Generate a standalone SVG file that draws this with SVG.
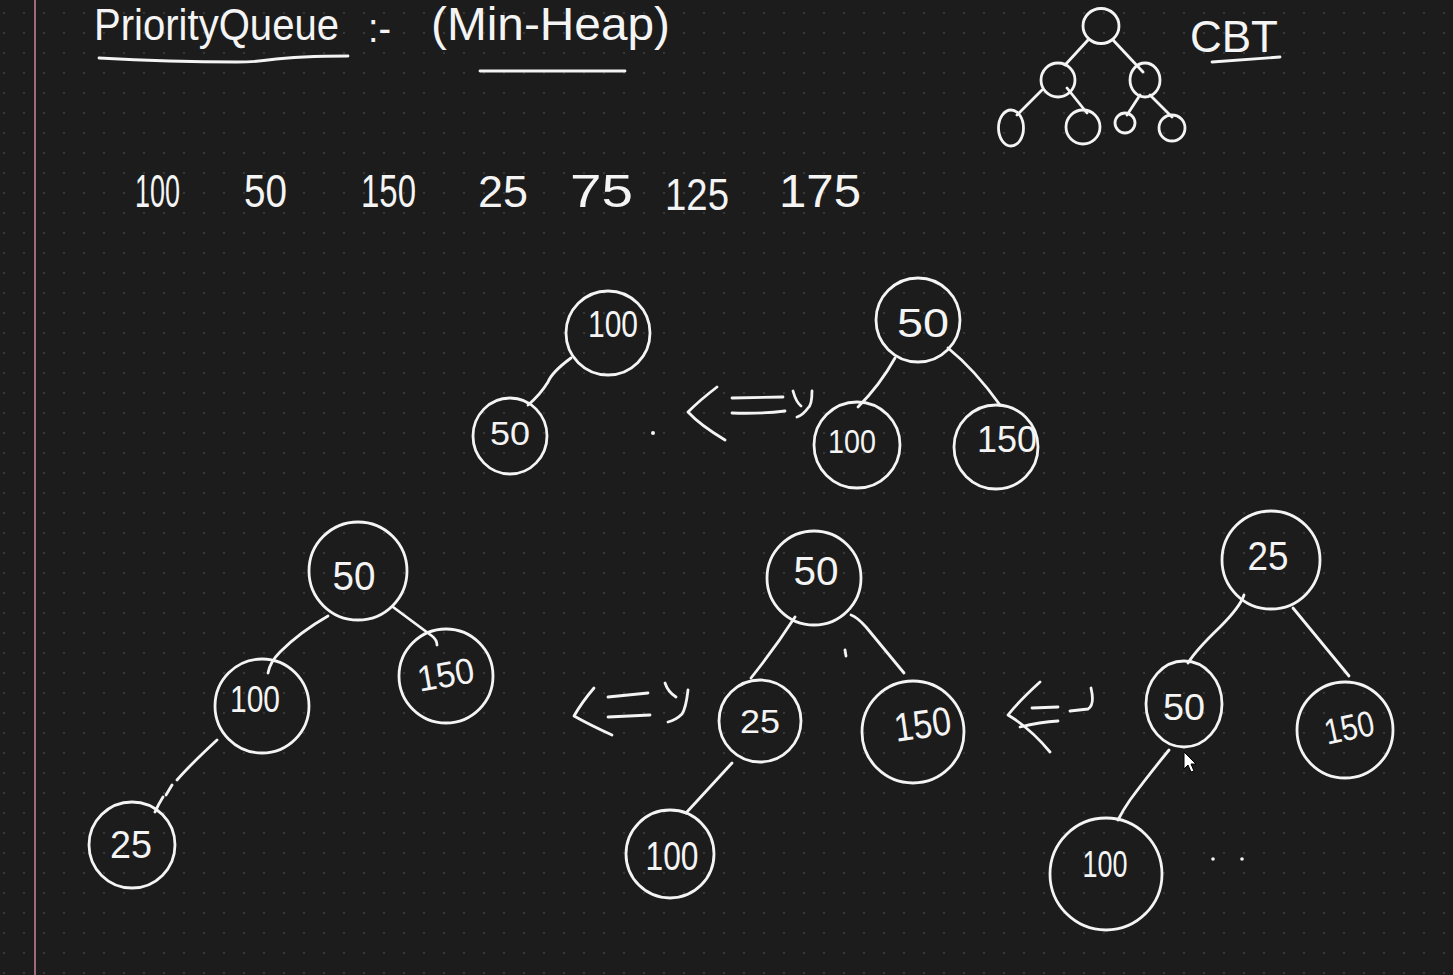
<svg xmlns="http://www.w3.org/2000/svg" width="1453" height="975" viewBox="0 0 1453 975">
<defs>
<pattern id="grid" width="20" height="20" patternUnits="userSpaceOnUse" x="-6" y="3">
<circle cx="10" cy="10" r="1.1" fill="#3e3e3e"/>
</pattern>
<style>
.ink{fill:none;stroke:#f4f4f4;stroke-width:2.8;stroke-linecap:round;stroke-linejoin:round}
.node{fill:none;stroke:#f4f4f4;stroke-width:2.8}
.lbl{fill:#f4f4f4;font-family:"Liberation Sans","DejaVu Sans",sans-serif;text-anchor:middle}
.txt{fill:#f4f4f4;font-family:"Liberation Sans","DejaVu Sans",sans-serif}
</style>
</defs>
<rect width="1453" height="975" fill="#1c1c1c"/>
<rect width="1453" height="975" fill="url(#grid)"/>
<line x1="35" y1="0" x2="35" y2="975" stroke="#9e6b78" stroke-width="2"/>

<g id="title">
<text class="txt" x="94" y="40" font-size="44" textLength="245" lengthAdjust="spacingAndGlyphs">PriorityQueue</text>
<text class="txt" x="368" y="42" font-size="40" textLength="23" lengthAdjust="spacingAndGlyphs">:-</text>
<text class="txt" x="431" y="40" font-size="46" textLength="239" lengthAdjust="spacingAndGlyphs">(Min-Heap)</text>
<path class="ink" d="M99,58 Q170,62 237,62 Q255,62 268,60 Q300,56 348,56"/>
<path class="ink" d="M480,71 L625,71"/>
</g>

<g id="cbt">
<ellipse class="node" cx="1101" cy="26" rx="18" ry="17.5"/>
<circle class="node" cx="1058" cy="80" r="17"/>
<ellipse class="node" cx="1145" cy="80" rx="15" ry="17"/>
<ellipse class="node" cx="1011" cy="128" rx="12.5" ry="18"/>
<circle class="node" cx="1083" cy="127" r="17"/>
<circle class="node" cx="1125" cy="123" r="10"/>
<circle class="node" cx="1172" cy="128" r="13"/>
<path class="ink" d="M1088,40 L1065,65 M1113,40 L1143,72 M1042,90 L1017,115 M1067,88 L1087,113 M1140,95 L1127,115 M1150,95 L1172,117"/>
<text class="txt" x="1190" y="52" font-size="44" textLength="88" lengthAdjust="spacingAndGlyphs">CBT</text>
<path class="ink" d="M1212,62 L1280,57"/>
</g>

<g id="values">
<text class="txt" x="135" y="207" font-size="46" textLength="45" lengthAdjust="spacingAndGlyphs">100</text>
<text class="txt" x="244" y="207" font-size="46" textLength="43" lengthAdjust="spacingAndGlyphs">50</text>
<text class="txt" x="361" y="207" font-size="46" textLength="55" lengthAdjust="spacingAndGlyphs">150</text>
<text class="txt" x="478" y="207" font-size="44" textLength="50" lengthAdjust="spacingAndGlyphs">25</text>
<text class="txt" x="570" y="207" font-size="46" textLength="63" lengthAdjust="spacingAndGlyphs">75</text>
<text class="txt" x="665" y="210" font-size="44" textLength="64" lengthAdjust="spacingAndGlyphs">125</text>
<text class="txt" x="779" y="207" font-size="46" textLength="82" lengthAdjust="spacingAndGlyphs">175</text>
</g>

<g id="connectors">
<path class="ink" d="M571,358 Q552,372 548,382 Q540,395 528,405"/>
<path class="ink" d="M895,358 Q880,385 858,407"/>
<path class="ink" d="M948,348 Q975,370 1000,405"/>
<path class="ink" d="M328,616 Q300,632 280,652 Q270,662 268,673"/>
<path class="ink" d="M393,607 L432,636 Q437,640 437,645"/>
<path class="ink" d="M217,740 Q190,765 177,780 M172,785 L166,795 M163,797 Q158,805 155,812"/>
<path class="ink" d="M795,617 Q775,648 751,678"/>
<path class="ink" d="M851,615 Q857,617 866,627 L904,673"/>
<path class="ink" d="M732,763 L686,813"/>
<path class="ink" d="M1244,595 Q1240,607 1220,627 Q1196,650 1188,663"/>
<path class="ink" d="M1293,608 L1349,676"/>
<path class="ink" d="M1169,750 Q1147,777 1130,800 Q1123,810 1118,820"/>
</g>

<g id="arrows">
<path class="ink" d="M717,387 Q700,400 688,412 Q700,425 725,440 M732,398 L783,397 M732,413 Q760,414 785,411 M793,391 Q796,402 801,406 M812,391 Q812,405 808,408 Q803,415 797,417"/>
<path class="ink" d="M594,688 Q582,702 574,716 Q590,725 612,735 M608,697 L648,693 M608,717 L650,715 M665,683 Q668,692 676,697 M688,690 Q686,708 682,714 Q676,720 668,722"/>
<path class="ink" d="M1040,682 Q1020,700 1008,715 Q1030,728 1050,752 M1032,708 L1058,707 M1070,711 L1088,709 Q1095,705 1091,688 M1020,727 Q1040,722 1058,721"/>
</g>

<g id="marks">
<circle cx="653" cy="433" r="2" fill="#f4f4f4"/>
<path class="ink" d="M845,650 L846,656"/>
<circle cx="1213" cy="859" r="1.8" fill="#f4f4f4"/>
<circle cx="1242" cy="859" r="1.8" fill="#f4f4f4"/>
<polygon points="1184,752 1184,769 1188,765 1191,772 1194,771 1191,764 1196,764" fill="#ffffff" stroke="#000" stroke-width="1"/>
</g>

<g id="node-a100"><circle class="node" cx="608" cy="333" r="42"/><text class="lbl" x="613" y="337" font-size="36" textLength="50" lengthAdjust="spacingAndGlyphs">100</text></g>
<g id="node-a50"><ellipse class="node" cx="510" cy="436" rx="37" ry="38"/><text class="lbl" x="510" y="445" font-size="34" textLength="40" lengthAdjust="spacingAndGlyphs">50</text></g>

<g id="node-b50"><circle class="node" cx="918" cy="320" r="42"/><text class="lbl" x="923" y="337" font-size="40" textLength="52" lengthAdjust="spacingAndGlyphs">50</text></g>
<g id="node-b100"><circle class="node" cx="857" cy="445" r="43"/><text class="lbl" x="852" y="453" font-size="34" textLength="48" lengthAdjust="spacingAndGlyphs">100</text></g>
<g id="node-b150"><circle class="node" cx="996" cy="447" r="42"/><text class="lbl" x="1007" y="452" font-size="36" textLength="60" lengthAdjust="spacingAndGlyphs">150</text></g>

<g id="node-c50"><circle class="node" cx="358" cy="571" r="49"/><text class="lbl" x="354" y="590" font-size="40" textLength="43" lengthAdjust="spacingAndGlyphs">50</text></g>
<g id="node-c100"><circle class="node" cx="262" cy="706" r="47"/><text class="lbl" x="255" y="712" font-size="36" textLength="50" lengthAdjust="spacingAndGlyphs">100</text></g>
<g id="node-c150"><circle class="node" cx="446" cy="676" r="47"/><text class="lbl" x="446" y="687" font-size="36" textLength="57" lengthAdjust="spacingAndGlyphs" transform="rotate(-10 446 676)">150</text></g>
<g id="node-c25"><circle class="node" cx="132" cy="845" r="43"/><text class="lbl" x="131" y="858" font-size="38" textLength="42" lengthAdjust="spacingAndGlyphs">25</text></g>

<g id="node-d50"><circle class="node" cx="814" cy="578" r="47"/><text class="lbl" x="816" y="585" font-size="40" textLength="45" lengthAdjust="spacingAndGlyphs">50</text></g>
<g id="node-d25"><circle class="node" cx="760" cy="721" r="41"/><text class="lbl" x="760" y="733" font-size="34" textLength="40" lengthAdjust="spacingAndGlyphs">25</text></g>
<g id="node-d150"><circle class="node" cx="913" cy="732" r="51"/><text class="lbl" x="922" y="738" font-size="40" textLength="57" lengthAdjust="spacingAndGlyphs" transform="rotate(-8 922 720)">150</text></g>
<g id="node-d100"><circle class="node" cx="670" cy="854" r="44"/><text class="lbl" x="672" y="870" font-size="40" textLength="53" lengthAdjust="spacingAndGlyphs">100</text></g>

<g id="node-e25"><circle class="node" cx="1271" cy="560" r="49"/><text class="lbl" x="1268" y="570" font-size="40" textLength="41" lengthAdjust="spacingAndGlyphs">25</text></g>
<g id="node-e50"><ellipse class="node" cx="1184" cy="704" rx="38" ry="43"/><text class="lbl" x="1184" y="720" font-size="36" textLength="42" lengthAdjust="spacingAndGlyphs">50</text></g>
<g id="node-e150"><circle class="node" cx="1345" cy="730" r="48"/><text class="lbl" x="1348" y="740" font-size="36" textLength="50" lengthAdjust="spacingAndGlyphs" transform="rotate(-12 1348 722)">150</text></g>
<g id="node-e100"><circle class="node" cx="1106" cy="874" r="56"/><text class="lbl" x="1105" y="877" font-size="36" textLength="45" lengthAdjust="spacingAndGlyphs">100</text></g>
</svg>
